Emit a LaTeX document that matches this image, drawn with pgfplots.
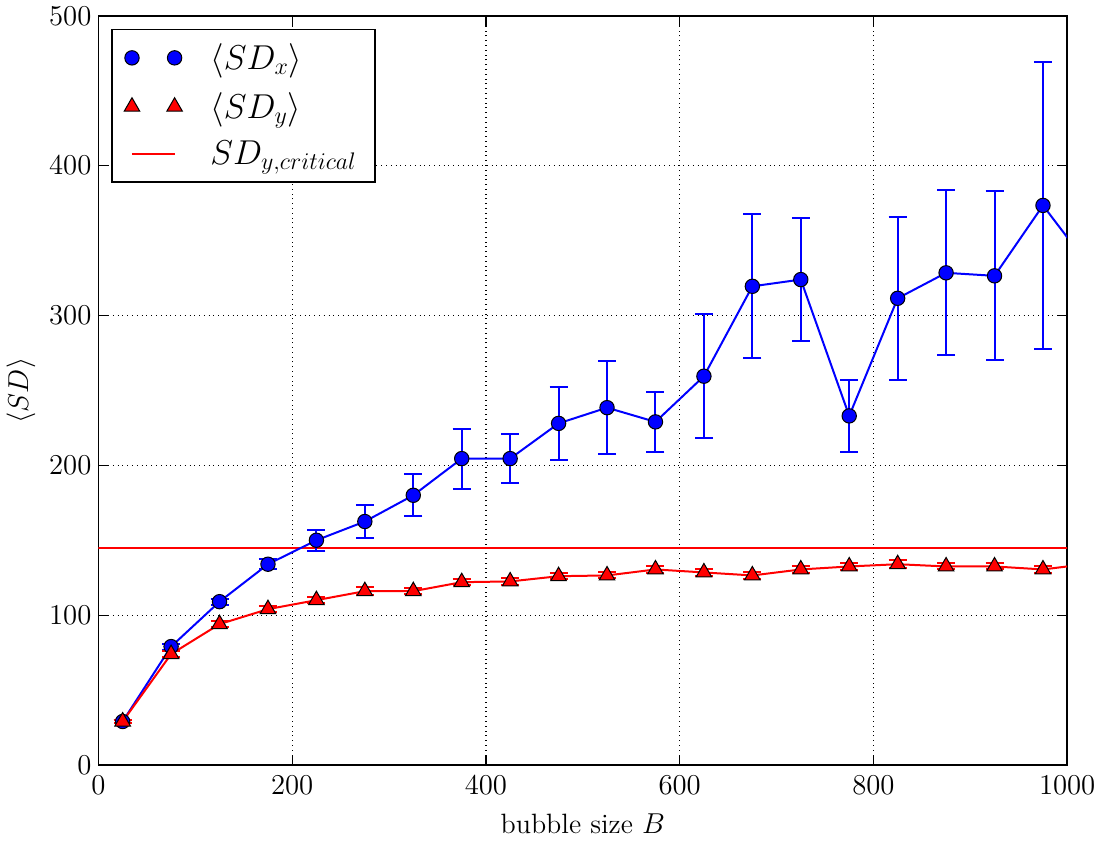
\documentclass[border=0pt]{standalone}
\usepackage{pgfplots}
\pgfplotsset{compat=1.18}
\pgfplotsset{
  twomarks/.style={legend image code/.code={\draw[##1] plot coordinates {(0cm,0cm) (0.75cm,0cm)};}},
  oneline/.style={legend image code/.code={\draw[##1] (0cm,0cm) -- (0.75cm,0cm);}},
}
\begin{document}
\begin{tikzpicture}
\begin{axis}[
  scale only axis,
  width=485pt, height=375pt,
  xmin=0, xmax=1000, ymin=0, ymax=500,
  xtick={0,200,400,600,800,1000},
  ytick={0,100,200,300,400,500},
  /pgf/number format/1000 sep={},
  grid=major,
  major grid style={black, dotted, line width=0.6pt},
  axis line style={line width=0.9pt},
  tick align=inside,
  major tick length=5pt,
  tick style={black, line width=0.6pt},
  ticklabel style={font=\fontsize{14}{16}\selectfont},
  xticklabel style={yshift=-2pt},
  xlabel={bubble size $B$},
  ylabel={$\langle SD\rangle$},
  label style={font=\fontsize{14}{16}\selectfont},
  xlabel style={yshift=-3pt},
  ylabel style={yshift=0pt},
  legend cell align=left,
  legend style={at={(axis description cs:0.0134,0.983)}, anchor=north west,
    font=\fontsize{17}{20}\selectfont, draw=black, line width=0.8pt, inner xsep=6pt, inner ysep=4pt,
    row sep=4pt, nodes={inner sep=3pt}},
  legend image post style={xshift=4pt},
  clip=true,
]
% critical line
\addplot[red, line width=1pt, forget plot] coordinates {(-100,144.5) (1100,144.5)};
% SD_x
\addplot[blue, line width=1pt, mark=*, mark size=3.6pt, forget plot,
  mark options={draw=black, fill=blue, line width=0.5pt},
  error bars/.cd, y dir=both, y explicit,
  error bar style={blue, line width=1pt},
  error mark options={rotate=90, blue, mark size=4.5pt, line width=1pt},
  ] coordinates {
  (25,29) +- (0,1)
  (75,79) +- (0,2)
  (125,109) +- (0,2)
  (175,134) +- (0,3.5)
  (225,150) +- (0,7)
  (275,162.5) +- (0,11)
  (325,180) +- (0,14)
  (375,204.5) +- (0,20)
  (425,204.5) +- (0,16.5)
  (475,228) +- (0,24.5)
  (525,238.5) +- (0,31)
  (575,229) +- (0,20)
  (625,259.5) +- (0,41.5)
  (675,319.5) +- (0,48)
  (725,324) +- (0,41)
  (775,233) +- (0,24)
  (825,311.5) +- (0,54.5)
  (875,328.5) +- (0,55)
  (925,326.5) +- (0,56.5)
  (975,373.5) +- (0,96)
  (1025,331) +- (0,40)
};
% SD_y
\addplot[red, line width=1pt, mark=triangle*, mark size=4.5pt, forget plot,
  mark options={draw=black, fill=red, line width=0.5pt},
  error bars/.cd, y dir=both, y explicit,
  error bar style={red, line width=1pt},
  error mark options={rotate=90, red, mark size=4.5pt, line width=1pt},
  ] coordinates {
  (25,29) +- (0,1)
  (75,74) +- (0,2)
  (125,94) +- (0,2)
  (175,104) +- (0,2)
  (225,110) +- (0,2)
  (275,116) +- (0,2.5)
  (325,116) +- (0,2)
  (375,122) +- (0,2)
  (425,122.5) +- (0,2.5)
  (475,126) +- (0,2)
  (525,126.5) +- (0,2)
  (575,130.5) +- (0,2.5)
  (625,128.5) +- (0,2.5)
  (675,126.5) +- (0,2.5)
  (725,130.5) +- (0,2.5)
  (775,132.5) +- (0,2.5)
  (825,134) +- (0,2.5)
  (875,132.5) +- (0,2)
  (925,132.5) +- (0,2)
  (975,130.5) +- (0,2.5)
  (1025,134.5) +- (0,2)
};
\addlegendimage{only marks, mark=*, mark size=3.6pt, mark options={draw=black, fill=blue, line width=0.5pt}, twomarks}
\addlegendentry{\hspace{11pt}$\langle SD_x\rangle$}
\addlegendimage{only marks, mark=triangle*, mark size=4.5pt, mark options={draw=black, fill=red, line width=0.5pt}, twomarks}
\addlegendentry{\hspace{11pt}$\langle SD_y\rangle$}
\addlegendimage{red, line width=1pt, oneline}
\addlegendentry{\hspace{11pt}$SD_{y,critical}$}
\end{axis}
\end{tikzpicture}
\end{document}
